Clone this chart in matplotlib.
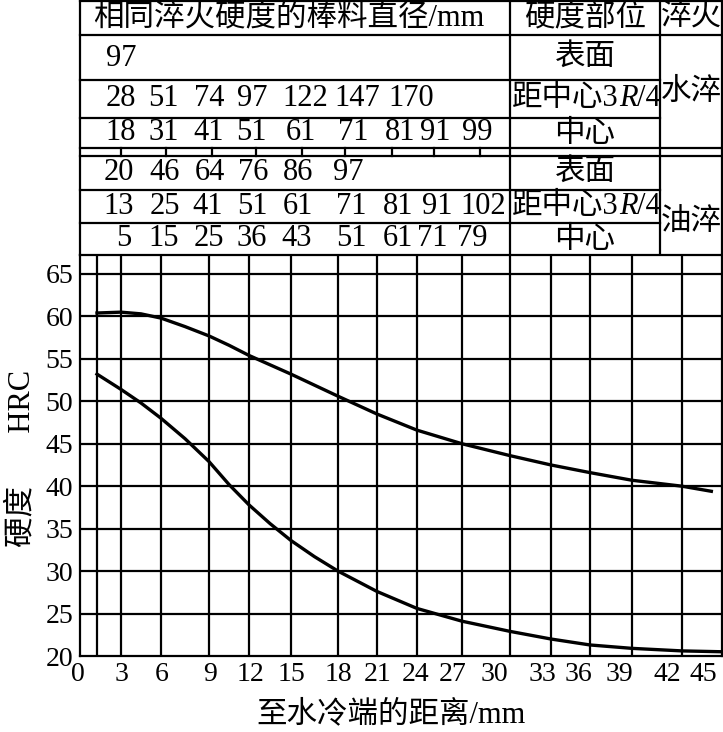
import numpy as np
import matplotlib.pyplot as plt
from matplotlib.transforms import ScaledTranslation

plt.rcParams['font.family'] = ['Liberation Serif', 'Noto Sans CJK SC']

# hardness curves (distance from quenched end in mm, HRC)
upper_mm = [1.5, 3, 4.5, 6, 7.5, 9, 10.5, 12, 15, 18, 21, 24, 27, 30, 33, 36, 39, 42, 44.2]
upper_hrc = [60.4, 60.5, 60.3, 59.8, 58.8, 57.7, 56.6, 55.4, 53.2, 50.6, 48.5, 46.6, 45.0, 43.6, 42.5, 41.6, 40.7, 40.0, 39.4]
lower_mm = [1.5, 3, 4.5, 6, 7.5, 9, 10.5, 12, 13.5, 15, 16.5, 18, 21, 24, 27, 30, 33, 36, 39, 42, 45]
lower_hrc = [53.2, 51.4, 49.8, 48.0, 45.6, 42.9, 40.2, 37.8, 35.6, 33.6, 31.7, 30.0, 27.6, 25.6, 24.1, 22.9, 22.0, 21.3, 20.9, 20.6, 20.5]

x_ticks = [0, 3, 6, 9, 12, 15, 18, 21, 24, 27, 30, 33, 36, 39, 42, 45]
y_ticks = [20, 25, 30, 35, 40, 45, 50, 55, 60, 65]
grid_mm = [1.5, 3, 6, 9, 12, 15, 18, 21, 24, 27, 30, 33, 36, 39, 42]

# table above the chart
header = '相同淬火硬度的棒料直径/mm'
water_surface = ['97']
water_34 = ['28', '51', '74', '97', '122', '147', '170']
water_center = ['18', '31', '41', '51', '61', '71', '81', '91', '99']
oil_surface = ['20', '46', '64', '76', '86', '97']
oil_34 = ['13', '25', '41', '51', '61', '71', '81', '91', '102']
oil_center = ['5', '15', '25', '36', '43', '51', '61', '71', '79']
spots = ['表面', '中心']
quench = ['水淬', '油淬']

# layout (pixels)
W, H = 723, 732
AX_L, AX_R, AX_T, AX_B = 80, 722, 255, 656
# the distance axis is not linear: pixel position of each grid line
knot_mm = [0, 1.5, 3, 6, 9, 12, 15, 18, 21, 24, 27, 30, 33, 36, 39, 42, 45]
knot_px = [80, 97, 121, 161, 209, 249, 291, 338, 377, 417, 462, 510, 551, 590, 632, 682, 722]
label_shift = [-2, 1, 1, 1, 1, 0, 0, 1, -1, -9, -16, -9, -12, -13, -15, -19]

fig = plt.figure(figsize=(W / 100, H / 100), dpi=100)

# ---- table ----
tab = fig.add_axes([0, 0, 1, 1])
tab.set_xlim(0, W)
tab.set_ylim(H, 0)
tab.axis('off')
lw = 1.6
kw = dict(color='black', lw=lw)
for y in [1, 35, 148, 156]:
    tab.plot([AX_L, AX_R], [y, y], **kw)
for y in [80, 118, 190, 223]:
    tab.plot([AX_L, 660], [y, y], **kw)
for x in [AX_L, 510, 660, AX_R - 0.5]:
    tab.plot([x, x], [0, AX_T], **kw)
for x in [121, 166, 212, 256, 302, 345, 392, 434, 480]:
    tab.plot([x, x], [148, 156], **kw)

fs = 22
tab.text(93, 18, header, ha='left', va='center', fontsize=fs)
rows = [
    (water_surface, [121], 58),
    (water_34, [121, 163, 209, 252, 305, 357, 411], 99),
    (water_center, [121, 164, 209, 251, 301, 353, 400, 435, 477], 133),
    (oil_surface, [119, 165, 210, 253, 298, 348], 173),
    (oil_34, [119, 165, 208, 252, 298, 351, 398, 437, 483], 206),
    (oil_center, [124, 164, 209, 252, 297, 351, 398, 432, 472], 239),
]
for vals, xs, y in rows:
    for v, x in zip(vals, xs):
        tab.text(x, y, v, ha='center', va='center', fontsize=fs)

tab.text(585, 18, '硬度部位', ha='center', va='center', fontsize=fs)
tab.text(691, 18, '淬火', ha='center', va='center', fontsize=fs)
for y_s, y_m, y_c in [(57, 99, 134), (172, 206, 240)]:
    tab.text(585, y_s, spots[0], ha='center', va='center', fontsize=fs)
    tab.text(585, y_c, spots[1], ha='center', va='center', fontsize=fs)
    t1 = tab.text(512, y_m, '距中心3', ha='left', va='center', fontsize=fs)
    t2 = tab.annotate('R', xy=(1, 0.5), xycoords=t1, ha='left', va='center',
                      fontsize=fs, style='italic')
    tab.annotate('/4', xy=(1, 0.5), xycoords=t2, ha='left', va='center', fontsize=fs)
tab.text(691, 92, quench[0], ha='center', va='center', fontsize=fs)
tab.text(691, 222, quench[1], ha='center', va='center', fontsize=fs)

# ---- chart ----
ax = fig.add_axes([AX_L / W, (H - AX_B) / H, (AX_R - AX_L) / W, (AX_B - AX_T) / H])
ax.set_xscale('function', functions=(lambda x: np.interp(x, knot_mm, knot_px),
                                     lambda p: np.interp(p, knot_px, knot_mm)))
ax.plot(upper_mm, upper_hrc, color='black', lw=2.4, zorder=3)
ax.plot(lower_mm, lower_hrc, color='black', lw=2.4, zorder=3)

ax.set_xlim(0, 45)
ax.set_ylim(20, 20 + (AX_B - AX_T) / 8.49)
for g in grid_mm:
    ax.axvline(g, color='black', lw=lw, zorder=2)
for v in y_ticks[1:]:
    ax.axhline(v, color='black', lw=lw, zorder=2)

ax.set_xticks(x_ticks)
ax.set_xticklabels([str(t) for t in x_ticks])
ax.set_yticks(y_ticks)
ax.tick_params(length=0, labelsize=20)
ax.tick_params(axis='y', pad=5)
ax.tick_params(axis='x', pad=4)
for lab, dx in zip(ax.get_xticklabels(), label_shift):
    lab.set_transform(lab.get_transform() + ScaledTranslation(dx / 100, 0, fig.dpi_scale_trans))
for s in ax.spines.values():
    s.set_linewidth(lw)

fig.text(391 / W, 1 - 715 / H, '至水冷端的距离/mm', ha='center', va='center', fontsize=fs)
fig.text(22 / W, 1 - 458 / H, '硬度　   HRC', ha='center', va='center', rotation=90, fontsize=fs)

fig.savefig('out.png', dpi=100)
